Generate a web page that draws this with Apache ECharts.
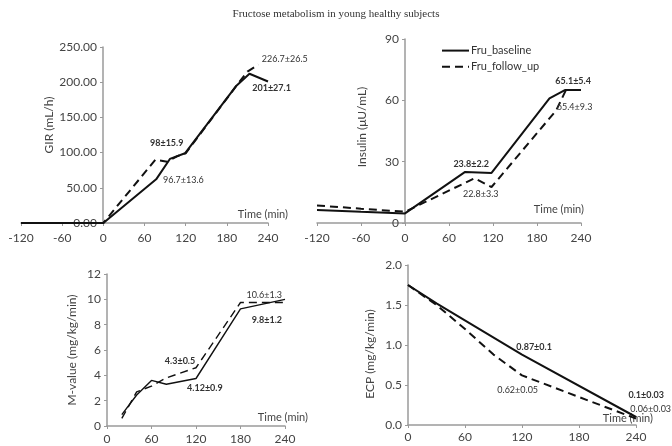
<!DOCTYPE html>
<html>
<head>
<meta charset="utf-8">
<script src="https://cdn.jsdelivr.net/npm/echarts@6/dist/echarts.min.js"></script>
<style>
  html, body { margin: 0; padding: 0; background: #fff; }
  #chart { width: 672px; height: 446px; }
</style>
</head>
<body>
<div id="chart"></div>
<script>
// ---- data ----
const seriesNames = ['Fru_baseline', 'Fru_follow_up'];

// GIR (mL/h)
const girBaseTime = [-120, 0, 77, 97, 119, 194, 213, 240];
const girBaseVal  = [0, 0, 62, 91, 99, 195, 212, 201];
const girFollowTime = [-120, 0, 15, 76, 93, 108, 120, 194, 210, 226];
const girFollowVal  = [0, 0, 18, 90, 87, 95, 99, 195, 215, 225];

// Insulin (µU/mL)
const insBaseTime = [-120, -60, 0, 82, 118, 197, 218, 240];
const insBaseVal  = [6.4, 5.5, 4.7, 25, 24.5, 61, 65, 65];
const insFollowTime = [-120, -60, 0, 25, 95, 118, 206, 220];
const insFollowVal  = [8.6, 7, 5.5, 9.8, 21.9, 17.6, 55, 65.4];

// M-value (mg/kg/min)
const mvBaseTime = [20, 40, 60, 80, 120, 180, 240];
const mvBaseVal  = [0.9, 2.45, 3.6, 3.3, 3.75, 9.25, 10.0];
const mvFollowTime = [20, 40, 60, 80, 120, 180, 240];
const mvFollowVal  = [0.6, 2.7, 3.15, 3.8, 4.6, 9.75, 9.75];

// ECP (mg/kg/min)
const ecpBaseTime = [0, 30, 120, 240];
const ecpBaseVal  = [1.75, 1.52, 0.88, 0.1];
const ecpFollowTime = [0, 30, 60, 90, 120, 240];
const ecpFollowVal  = [1.75, 1.5, 1.2, 0.88, 0.62, 0.08];

// annotations: [time, value, text] (text starts at the point)
const girBaseNotes = [[68, 114, '98±15.9'], [217, 192, '201±27.1']];
const girFollowNotes = [[87, 61, '96.7±13.6'], [231, 233, '226.7±26.5']];
const insBaseNotes = [[66, 28.9, '23.8±2.2'], [205, 69.6, '65.1±5.4']];
const insFollowNotes = [[79, 14.2, '22.8±3.3'], [207, 56.9, '65.4±9.3']];
const mvBaseNotes = [[78, 5.15, '4.3±0.5'], [108, 2.97, '4.12±0.9'], [195, 8.37, '9.8±1.2']];
const mvFollowNotes = [[188, 10.34, '10.6±1.3']];
const ecpBaseNotes = [[114, 0.97, '0.87±0.1'], [232, 0.37, '0.1±0.03']];
const ecpFollowNotes = [[94, 0.44, '0.62±0.05'], [234, 0.2, '0.06±0.03']];

const FONT = 'Lato';
const AXIS_GRAY = '#9a9a9a';
const TEXT = '#444';

function pairs(t, v) { return t.map((x, i) => [x, v[i]]); }

function notes(list, bold) {
  return {
    silent: true,
    symbol: 'circle',
    symbolSize: 0,
    label: {
      show: true, position: 'right', distance: 0,
      fontFamily: FONT, fontSize: 9, color: '#333',
      fontWeight: bold ? 'bold' : 'normal'
    },
    data: list.map(n => ({ coord: [n[0], n[1]], label: { formatter: n[2] } }))
  };
}

function line(idx, follow, t, v, noteList, width) {
  return {
    name: seriesNames[follow ? 1 : 0],
    type: 'line',
    xAxisIndex: idx, yAxisIndex: idx,
    data: pairs(t, v),
    symbol: 'none',
    lineStyle: { color: '#111', width: width, type: follow ? [8, 5] : 'solid' },
    itemStyle: { color: '#111' },
    markPoint: notes(noteList, !follow),
    z: follow ? 3 : 4
  };
}

function xAxis(idx, min, nameGap, padBottom, margin) {
  return {
    type: 'value', gridIndex: idx, min: min, max: 240, interval: 60,
    name: 'Time (min)', nameLocation: 'end', nameGap: nameGap,
    nameTextStyle: { fontFamily: FONT, fontSize: 11, color: TEXT, align: 'right',
                     verticalAlign: 'bottom', padding: [0, 0, padBottom, 0] },
    axisLine: { lineStyle: { color: AXIS_GRAY, width: 1.5 } },
    axisTick: { length: 3, lineStyle: { color: AXIS_GRAY } },
    axisLabel: { fontFamily: FONT, fontSize: 12, color: TEXT, margin: margin },
    splitLine: { show: false }
  };
}

// offset moves the y axis onto time 0 when the x axis starts before 0
function yAxis(idx, max, interval, name, nameGap, decimals, offset, namePad) {
  return {
    type: 'value', gridIndex: idx, min: 0, max: max, interval: interval,
    position: 'left', offset: offset,
    name: name, nameLocation: 'middle', nameGap: nameGap,
    nameTextStyle: { fontFamily: FONT, fontSize: 12, color: TEXT, padding: namePad },
    axisLine: { show: true, onZero: false, lineStyle: { color: AXIS_GRAY, width: 1.5 } },
    axisTick: { show: true, length: 3, lineStyle: { color: AXIS_GRAY } },
    axisLabel: { fontFamily: FONT, fontSize: 12, color: TEXT, margin: 6,
                 formatter: v => decimals ? v.toFixed(decimals) : String(v) },
    splitLine: { show: false }
  };
}

const chart = echarts.init(document.getElementById('chart'));
chart.setOption({
  animation: false,
  backgroundColor: '#fff',
  title: {
    text: 'Fructose metabolism in young healthy subjects',
    left: 'center', top: 4,
    textStyle: { fontFamily: 'Liberation Serif', fontSize: 11, fontWeight: 'normal', color: '#333' }
  },
  legend: {
    data: seriesNames,
    orient: 'vertical', left: 436, top: 40,
    itemWidth: 27, itemHeight: 14, itemGap: 5,
    itemStyle: { opacity: 0, color: 'rgba(0,0,0,0)', borderWidth: 0 },
    textStyle: { fontFamily: FONT, fontSize: 11, color: '#333', padding: [0, 0, 0, -3] }
  },
  grid: [
    { left: 21, width: 247, top: 47, height: 176, containLabel: false, outerBoundsMode: 'none' },
    { left: 317, width: 264, top: 39, height: 184, containLabel: false, outerBoundsMode: 'none' },
    { left: 107, width: 178, top: 274, height: 152, containLabel: false, outerBoundsMode: 'none' },
    { left: 408, width: 228, top: 265, height: 160, containLabel: false, outerBoundsMode: 'none' }
  ],
  xAxis: [
    xAxis(0, -120, 20, 3, 9),
    xAxis(1, -120, 3, 8, 9),
    xAxis(2, 0, 23, 3, 7),
    xAxis(3, 0, 17, 1, 6)
  ],
  yAxis: [
    yAxis(0, 250, 50, 'GIR (mL/h)', 44, 2, -82, [0, 0, 0, 20]),
    yAxis(1, 90, 30, 'Insulin (μU/mL)', 37, 0, -88, [0, 0, 0, 8]),
    yAxis(2, 12, 2, 'M-value (mg/kg/min)', 29, 0, 0, 0),
    yAxis(3, 2, 0.5, 'ECP (mg/kg/min)', 32, 1, 0, [0, 18, 0, 0])
  ],
  series: [
    line(0, false, girBaseTime, girBaseVal, girBaseNotes, 2),
    line(0, true, girFollowTime, girFollowVal, girFollowNotes, 2),
    line(1, false, insBaseTime, insBaseVal, insBaseNotes, 2),
    line(1, true, insFollowTime, insFollowVal, insFollowNotes, 2),
    line(2, false, mvBaseTime, mvBaseVal, mvBaseNotes, 1.4),
    line(2, true, mvFollowTime, mvFollowVal, mvFollowNotes, 1.4),
    line(3, false, ecpBaseTime, ecpBaseVal, ecpBaseNotes, 2),
    line(3, true, ecpFollowTime, ecpFollowVal, ecpFollowNotes, 2)
  ]
});
</script>
</body>
</html>
